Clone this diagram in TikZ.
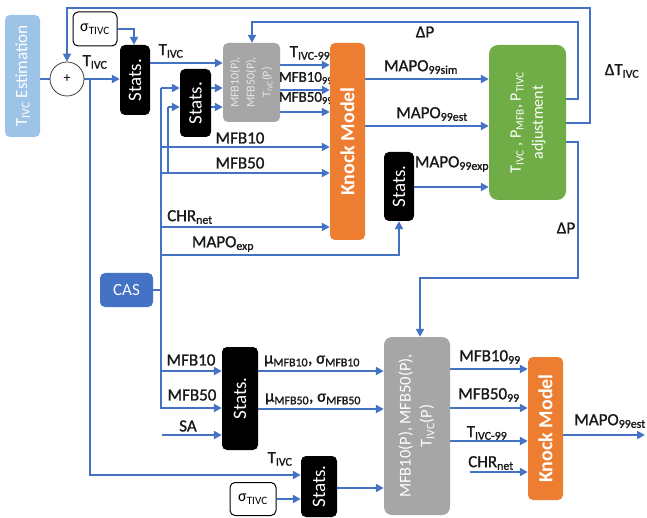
\documentclass[tikz,border=0pt]{standalone}
\usepackage{fontspec}
\setmainfont{Carlito}
\newfontfamily\heavy[FakeBold=1.2]{Carlito}
\usetikzlibrary{arrows.meta}
\pgfdeclarelayer{back}
\pgfsetlayers{back,main}
\definecolor{wireblue}{HTML}{4472C4}
\definecolor{estblue}{HTML}{9DC3E6}
\definecolor{casblue}{HTML}{4472C4}
\definecolor{modgrey}{HTML}{A6A6A6}
\definecolor{knockorange}{HTML}{ED7D31}
\definecolor{adjgreen}{HTML}{70AD47}
\definecolor{paletext}{HTML}{E6E6E6}
\newcommand\lo[1]{\textsubscript{#1}}
\newcommand\fs[1]{\fontsize{#1}{#1}\selectfont}
\newcommand\rows[3]{\fontsize{#1}{#2}\selectfont\begin{tabular}{@{}c@{}}#3\end{tabular}}
\begin{document}
\begin{tikzpicture}[x=1pt,y=-1pt,
  wire/.style={draw=wireblue, line width=2.4pt},
  feed/.style={wire, -{Triangle[length=8pt,width=8pt]}},
  blk/.style={rounded corners=5pt, inner sep=0pt, text=white},
  statbox/.style={blk, fill=black},
  lbl/.style={inner sep=0pt, text=black!90, font=\heavy\fs{17}},
]
\useasboundingbox (0,0) rectangle (647,518);
\begin{pgfonlayer}{back}
\fill[white] (0,0) rectangle (647,518);
\end{pgfonlayer}

% ---- blocks ----
\node[blk, fill=estblue, minimum width=35, minimum height=122] (est) at (22.5,76)
  {\rotatebox{90}{\fs{17}T\lo{IVC} Estimation}};
\node[circle, draw=black!75, line width=0.8pt, fill=white, minimum size=34, inner sep=0pt] (sum) at (67,79) {\fs{14}+};
\node[blk, draw=black, line width=1pt, fill=white, text=black, minimum width=44, minimum height=34] (sig1) at (95,29) {\fs{16}σ\lo{TIVC}};
\node[statbox, minimum width=30, minimum height=70] (s1) at (135,80) {\rotatebox{90}{\fs{19}Stats.}};
\node[statbox, minimum width=31, minimum height=68] (s2) at (195.5,103) {\rotatebox{90}{\fs{19}Stats.}};
\node[blk, fill=modgrey, text=paletext, minimum width=57, minimum height=79] (g1) at (251.5,82.5)
  {\rotatebox{90}{\rows{12}{16}{MFB10(P),\\MFB50(P),\\T\lo{IVC}(P)}}};
\node[blk, fill=knockorange, minimum width=35, minimum height=197] (k1) at (347.5,141.5)
  {\rotatebox{90}{\fs{20}\bfseries Knock Model}};
\node[statbox, minimum width=30, minimum height=69] (s5) at (399,186.5) {\rotatebox{90}{\fs{19}Stats.}};
\node[blk, rounded corners=9pt, fill=adjgreen, minimum width=77, minimum height=155] (gr) at (527.5,122.5)
  {\rotatebox{90}{\rows{16}{22}{T\lo{IVC} , P\lo{MFB}, P\lo{TIVC}\\adjustment}}};
\node[blk, fill=casblue, minimum width=53, minimum height=34] (cas) at (126.5,290) {\fs{17}CAS};
\node[statbox, minimum width=36, minimum height=103] (s4) at (240,398.5) {\rotatebox{90}{\fs{19}Stats.}};
\node[statbox, minimum width=36, minimum height=61] (s3) at (319,486.5) {\rotatebox{90}{\fs{19}Stats.}};
\node[blk, draw=black, line width=1pt, fill=white, text=black, minimum width=46, minimum height=33] (sig2) at (253,499) {\fs{16}σ\lo{TIVC}};
\node[blk, rounded corners=8pt, fill=modgrey, text=white, minimum width=66, minimum height=178] (g2) at (417,426)
  {\rotatebox{90}{\rows{16.5}{21}{MFB10(P), MFB50(P),\\T\lo{IVC}(P)}}};
\node[blk, fill=knockorange, minimum width=35, minimum height=143] (k2) at (545.5,428.5)
  {\rotatebox{90}{\fs{20}\bfseries Knock Model}};

% ---- connectors ----
\begin{pgfonlayer}{back}
\draw[wire] (est.east |- sum.west) -- (sum.west);
\draw[feed] (sum.east) -- (sum.east -| s1.west);
\coordinate (tb) at (90,79);
\draw[feed] (tb) -- (90,475) -- (s3.west |- 90,475);
\draw[feed] (sig1.east) -- (134,29) -- (s1.north -| 134,0);
\draw[feed] (s1.east |- 0,63) -- (g1.west |- 0,63);
\draw[feed] (s2.east |- 0,88) -- (g1.west |- 0,88);
\draw[feed] (s2.east |- 0,107) -- (g1.west |- 0,107);

% CAS distribution trunk
\draw[wire] (cas.east) -- (161,290);
\draw[feed] (161,88) -- (s2.west |- 0,88);
\draw[feed] (168,107) -- (s2.west |- 0,107);
\draw[wire] (168,107) -- (168,173);
\draw[feed] (161,88) -- (161,408) -- (s4.west |- 0,408);
\draw[feed] (161,147) -- (k1.west |- 0,147);
\draw[feed] (161,173) -- (k1.west |- 0,173);
\draw[feed] (161,227) -- (k1.west |- 0,227);
\draw[feed] (161,255) -- (s5.south |- 0,255) -- (s5.south);
\draw[feed] (161,371) -- (s4.west |- 0,371);
\draw[feed] (162,435) -- (s4.west |- 0,435);

% first knock model
\draw[feed] (g1.east |- 0,65) -- (k1.west |- 0,65);
\draw[feed] (g1.east |- 0,90) -- (k1.west |- 0,90);
\draw[feed] (g1.east |- 0,112) -- (k1.west |- 0,112);
\draw[feed] (k1.east |- 0,79) -- (gr.west |- 0,79);
\draw[feed] (k1.east |- 0,126) -- (gr.west |- 0,126);
\draw[feed] (s5.east |- 0,187) -- (gr.west |- 0,187);

% feedback loops
\draw[feed] (gr.east |- 0,123) -- (590,123) -- (590,8) -- (sum.north |- 0,8) -- (sum.north);
\draw[feed] (gr.east |- 0,99) -- (578,99) -- (578,22) -- (252,22) -- (g1.north -| 252,0);
\draw[feed] (gr.east |- 0,142) -- (578,142) -- (578,278) -- (420,278) -- (g2.north -| 420,0);

% lower chain
\draw[feed] (s4.east |- 0,371) -- (g2.west |- 0,371);
\draw[feed] (s4.east |- 0,409) -- (g2.west |- 0,409);
\draw[feed] (s3.east |- 0,488) -- (g2.west |- 0,488);
\draw[feed] (sig2.east) -- (s3.west |- sig2.east);
\draw[feed] (g2.east |- 0,369) -- (k2.west |- 0,369);
\draw[feed] (g2.east |- 0,408) -- (k2.west |- 0,408);
\draw[feed] (g2.east |- 0,441) -- (k2.west |- 0,441);
\draw[feed] (470,472) -- (k2.west |- 0,472);
\coordinate (out) at (645,435);
\draw[feed] (k2.east |- out) -- (out);

% ---- signal labels ----
\node[lbl] (l1) at (95,62) {T\lo{IVC}};
\node[lbl] (l2) at (171,51) {T\lo{IVC}};
\node[lbl] (l3) at (310,53) {T\lo{IVC-99}};
\node[lbl, font=\heavy\fs{15}] (l4) at (306,78) {MFB10\lo{99}};
\node[lbl, font=\heavy\fs{15}] (l5) at (306,98) {MFB50\lo{99}};
\node[lbl] (l6) at (240,138) {MFB10};
\node[lbl] (l7) at (240,163) {MFB50};
\node[lbl] (l8) at (190,217) {CHR\lo{net}};
\node[lbl] (l9) at (223,244) {MAPO\lo{exp}};
\node[lbl] (l10) at (425,32) {ΔP};
\node[lbl] (l11) at (421,67) {MAPO\lo{99sim}};
\node[lbl] (l12) at (432,114) {MAPO\lo{99est}};
\node[lbl] (l13) at (452,164) {MAPO\lo{99exp}};
\node[lbl] (l14) at (622,71) {ΔT\lo{IVC}};
\node[lbl] (l15) at (566,228) {ΔP};
\node[lbl] (l16) at (191,360) {MFB10};
\node[lbl] (l17) at (192,395) {MFB50};
\node[lbl] (l18) at (188,426) {SA};
\node[lbl] (l19) at (280,459) {T\lo{IVC}};
\node[lbl] (l20) at (312,361) {μ\lo{MFB10}, σ\lo{MFB10}};
\node[lbl] (l21) at (313,399) {μ\lo{MFB50}, σ\lo{MFB50}};
\node[lbl] (l22) at (490,357) {MFB10\lo{99}};
\node[lbl] (l23) at (489,395) {MFB50\lo{99}};
\node[lbl] (l24) at (487,433) {T\lo{IVC-99}};
\node[lbl] (l25) at (491,463) {CHR\lo{net}};
\node[lbl] (l26) at (610,421) {MAPO\lo{99est}};
\end{pgfonlayer}
\end{tikzpicture}
\end{document}
